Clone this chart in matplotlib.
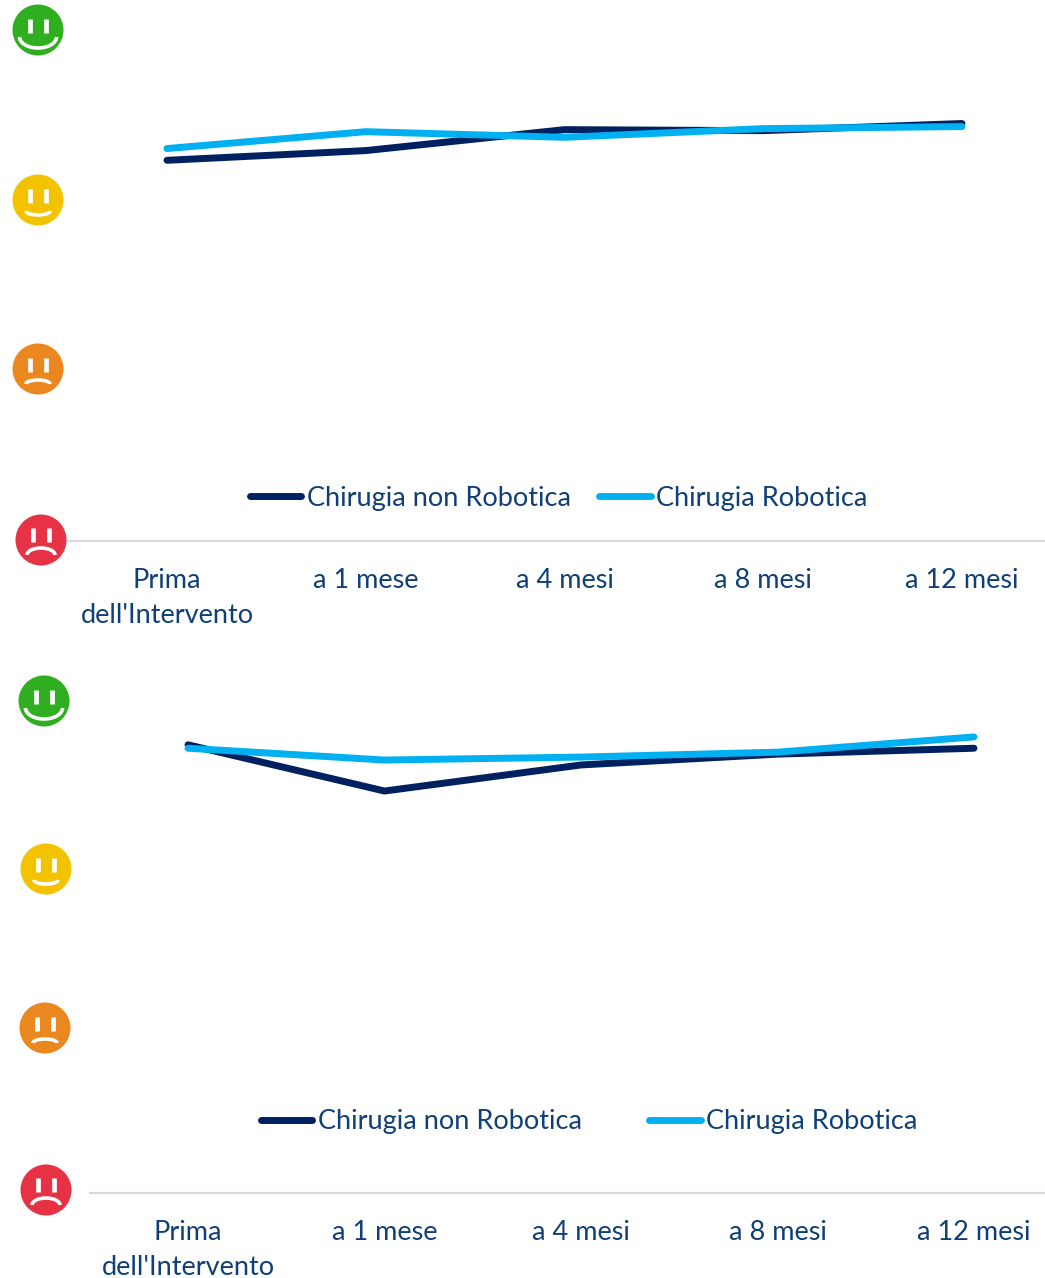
import matplotlib
matplotlib.use("Agg")
import matplotlib.pyplot as plt
from matplotlib.patches import Circle, Arc

plt.rcParams['font.family'] = ['Lato', 'DejaVu Sans']

W, H = 1045, 1278

categories = ["Prima\ndell'Intervento", "a 1 mese", "a 4 mesi", "a 8 mesi", "a 12 mesi"]
series_names = ["Chirugia non Robotica", "Chirugia Robotica"]

top_non_robotica = [74.5, 76.4, 80.5, 80.3, 81.7]
top_robotica = [76.8, 80.1, 79.0, 80.7, 81.1]
bottom_non_robotica = [91.1, 81.7, 87.0, 89.2, 90.4]
bottom_robotica = [90.4, 88.0, 88.6, 89.6, 92.7]

DARK = '#00205f'
LIGHT = '#00b0f0'
TEXT = '#0f3f77'
AXIS = '#d9d9d9'

# face colour, mouth width, mouth height, mouth offset, eye top offset
faces = [('#2fae1f', 37, 22, 7, -11, 1),
         ('#f4c300', 24, 8, 11, -11, 1),
         ('#ea871e', 24, 8, 15, -11, -1),
         ('#e63244', 28, 14, 15, -12, -1)]
top_face_pos = [(38, 30), (38, 200), (38, 369), (41, 540)]
bottom_face_pos = [(44, 701), (46, 869), (45, 1028), (46, 1190)]


def make_axes(fig, left, right, top, bottom, first_x, step):
    ax = fig.add_axes([left / W, 1 - bottom / H, (right - left) / W, (bottom - top) / H])
    ax.set_xlim((left - first_x) / step, (right - first_x) / step)
    ax.set_ylim(0, 100)
    for s in ['top', 'left', 'right']:
        ax.spines[s].set_visible(False)
    ax.spines['bottom'].set_color(AXIS)
    ax.spines['bottom'].set_linewidth(1.6)
    ax.set_yticks([])
    ax.set_xticks(range(len(categories)))
    ax.set_xticklabels(categories, fontsize=19.5, color=TEXT, linespacing=1.5)
    ax.tick_params(axis='x', length=0, pad=19.5)
    return ax


def draw_lines(ax, dark, light, legend_y, legend_x, col_space):
    x = range(len(categories))
    ax.plot(x, dark, color=DARK, lw=5, solid_capstyle='round', solid_joinstyle='miter', label=series_names[0])
    ax.plot(x, light, color=LIGHT, lw=5, solid_capstyle='round', solid_joinstyle='miter', label=series_names[1])
    fig_box = (legend_x / W, 1 - legend_y / H)
    ax.legend(loc='center left', bbox_to_anchor=fig_box, bbox_transform=ax.figure.transFigure,
              ncol=2, frameon=False, fontsize=19.5, labelcolor=TEXT, handlelength=1.9,
              handletextpad=0.2, columnspacing=col_space, borderpad=0, borderaxespad=0)


def draw_face(ov, cx, cy, color, mw, mh, my, eye, sign, r=25.5):
    ov.add_patch(Circle((cx, cy), r, fc=color, ec='none'))
    for dx in (-8, 8):
        ov.plot([cx + dx, cx + dx], [cy + eye, cy + eye + 14], color='white', lw=3.4, solid_capstyle='butt')
    if sign > 0:
        ov.add_patch(Arc((cx, cy + my), mw, mh, theta1=0, theta2=180, color='white', lw=2.6))
    else:
        ov.add_patch(Arc((cx, cy + my), mw, mh, theta1=180, theta2=360, color='white', lw=2.6))


fig = plt.figure(figsize=(W / 100, H / 100), dpi=100)
fig.patch.set_facecolor('white')

ax1 = make_axes(fig, 68, 1045, 30, 541, 167, 198.75)
draw_lines(ax1, top_non_robotica, top_robotica, 498, 250, 1.05)

ax2 = make_axes(fig, 90, 1045, 701, 1193, 188, 196.5)
draw_lines(ax2, bottom_non_robotica, bottom_robotica, 1122, 261, 2.48)

# overlay in pixel units for the smiley icons
ov = fig.add_axes([0, 0, 1, 1])
ov.set_xlim(0, W)
ov.set_ylim(H, 0)
ov.axis('off')
ov.patch.set_alpha(0)
for pos_list in (top_face_pos, bottom_face_pos):
    for (cx, cy), face in zip(pos_list, faces):
        draw_face(ov, cx, cy, *face)

fig.savefig('out.png', dpi=100)
